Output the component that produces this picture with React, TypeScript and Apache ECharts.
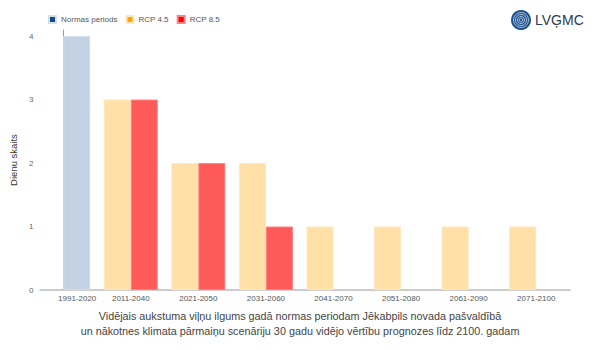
import React, { useEffect, useRef } from "react";
import * as echarts from "echarts";

const categories = ["1991-2020", "2011-2040", "2021-2050", "2031-2060", "2041-2070", "2051-2080", "2061-2090", "2071-2100"];
const normasValues = [4, null, null, null, null, null, null, null];
const rcp45Values = [null, 3, 2, 2, 1, 1, 1, 1];
const rcp85Values = [null, 3, 2, 1, null, null, null, null];
const yTicks = [0, 1, 2, 3, 4];
const titleLines = [
  "Vidējais aukstuma viļņu ilgums gadā normas periodam Jēkabpils novada pašvaldībā",
  "un nākotnes klimata pārmaiņu scenāriju 30 gadu vidējo vērtību prognozes līdz 2100. gadam",
];

const FONT = "Liberation Sans, Arial, sans-serif";

const toPairs = (vals: (number | null)[]) =>
  vals.map((v, i) => (v == null ? null : [i, v])).filter((d) => d !== null);

export default function App() {
  const ref = useRef<HTMLDivElement>(null);
  useEffect(() => {
    document.body.style.margin = "0";
    if (!ref.current) return;
    const chart = echarts.init(ref.current, null, { renderer: "svg" });
    chart.setOption({
      animation: false,
      textStyle: { fontFamily: FONT },
      legend: {
        left: 43,
        top: 10,
        itemWidth: 7,
        itemHeight: 7,
        itemGap: 8,
        icon: "rect",
        textStyle: { fontSize: 8, color: "#555", fontFamily: FONT },
        data: [
          { name: "Normas periods", itemStyle: { color: "#134a8e" } },
          { name: "RCP 4.5", itemStyle: { color: "#ffa500" } },
          { name: "RCP 8.5", itemStyle: { color: "#ff0000" } },
        ],
      },
      title: {
        text: titleLines.join("\n"),
        left: "center",
        top: 308,
        padding: 0,
        textStyle: { fontSize: 10.8, fontWeight: "normal", color: "#444", lineHeight: 15, fontFamily: FONT },
      },
      grid: { left: 37, right: 30, top: 30, bottom: 60 },
      xAxis: {
        type: "value",
        min: -0.338,
        max: 7.5,
        splitLine: { show: false },
        axisLine: { show: true, onZero: false, lineStyle: { color: "#ccc", width: 2 } },
        axisTick: { show: false },
        axisLabel: {
          fontSize: 8,
          color: "#555",
          margin: 4,
          fontFamily: FONT,
          customValues: categories.map((_, i) => i),
          formatter: (v: number) => {
            const i = Math.round(v);
            return i === 0 ? `{first|${categories[i]}}` : categories[i] ?? "";
          },
          rich: { first: { fontSize: 8, color: "#555", fontFamily: FONT, padding: [0, 0, 0, 28] } },
        },
      },
      yAxis: {
        type: "value",
        min: 0,
        max: 4.095,
        name: "Dienu skaits",
        nameLocation: "middle",
        nameGap: 19,
        nameTextStyle: { fontSize: 9.5, color: "#333", fontFamily: FONT },
        axisLine: { show: true, lineStyle: { color: "#999", width: 1 } },
        axisTick: { show: false },
        splitLine: { show: false },
        axisLabel: {
          fontSize: 8,
          color: "#666",
          margin: 7,
          fontFamily: FONT,
          customValues: yTicks,
        },
      },
      series: [
        {
          name: "RCP 4.5",
          type: "bar",
          stack: "a",
          data: toPairs(rcp45Values),
          barWidth: 27,
          barGap: "0%",
          itemStyle: { color: "#ffe0a6", borderColor: "#ffe7bd", borderWidth: 1 },
        },
        {
          name: "Normas periods",
          type: "bar",
          stack: "b",
          data: toPairs(normasValues),
          barWidth: 27,
          barGap: "0%",
          itemStyle: { color: "#c3d2e3", borderColor: "#d4dfeb", borderWidth: 1 },
        },
        {
          name: "RCP 8.5",
          type: "bar",
          stack: "b",
          data: toPairs(rcp85Values),
          barWidth: 27,
          barGap: "0%",
          itemStyle: { color: "#ff5a5a", borderColor: "#ff8080", borderWidth: 1 },
        },
      ],
      graphic: [
        {
          type: "group",
          left: 511,
          top: 10,
          children: [
            { type: "circle", shape: { cx: 10, cy: 10, r: 10 }, style: { fill: "#1c4f8f" } },
            { type: "circle", shape: { cx: 10, cy: 10, r: 7.5 }, style: { fill: "none", stroke: "#ffffff", lineWidth: 0.8, opacity: 0.8 } },
            { type: "circle", shape: { cx: 10, cy: 10, r: 5.5 }, style: { fill: "none", stroke: "#ffffff", lineWidth: 0.8, opacity: 0.8 } },
            { type: "circle", shape: { cx: 10, cy: 10, r: 3.5 }, style: { fill: "none", stroke: "#ffffff", lineWidth: 0.8, opacity: 0.8 } },
            { type: "circle", shape: { cx: 10, cy: 10, r: 1.8 }, style: { fill: "#1c4f8f", stroke: "#ffffff", lineWidth: 0.6 } },
          ],
        },
        {
          type: "text",
          left: 535,
          top: 13,
          style: { text: "LVĢMC", fontSize: 14, fill: "#2b3a55", fontFamily: FONT },
        },
      ],
    });
    return () => chart.dispose();
  }, []);
  return <div ref={ref} style={{ width: 600, height: 350 }} />;
}
